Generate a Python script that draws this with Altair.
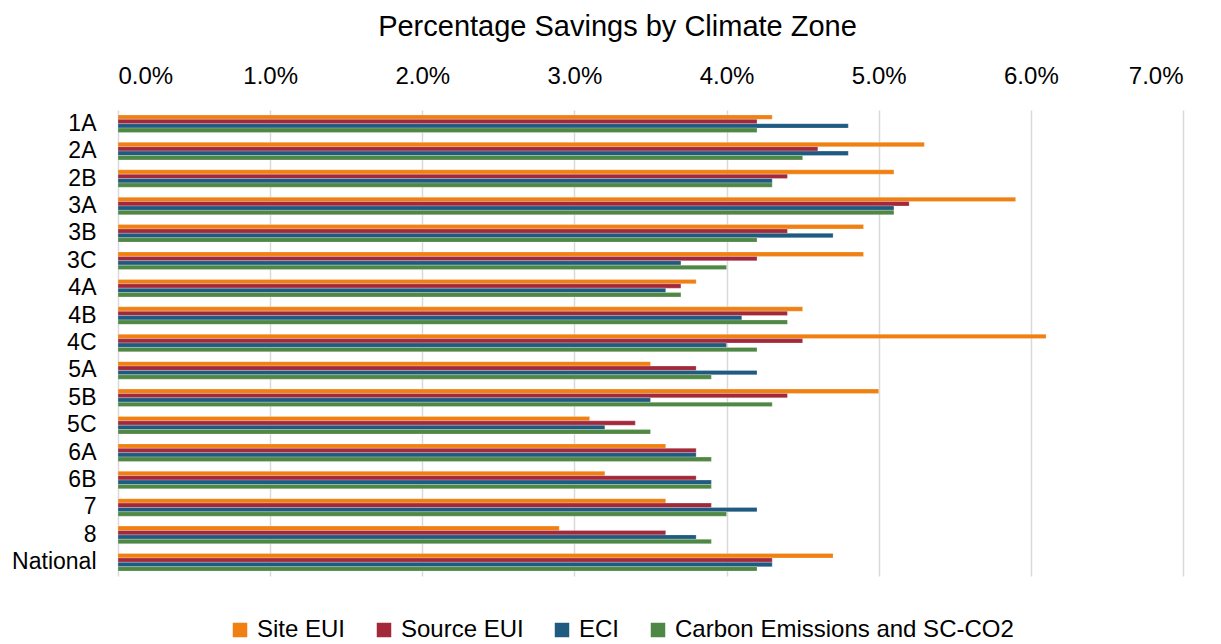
import altair as alt
import pandas as pd

zones = ["1A", "2A", "2B", "3A", "3B", "3C", "4A", "4B", "4C", "5A", "5B",
         "5C", "6A", "6B", "7", "8", "National"]
series = ["Site EUI", "Source EUI", "ECI", "Carbon Emissions and SC-CO2"]
colors = ["#F08012", "#A3293A", "#1F5A80", "#4F8744"]

site_eui = [4.3, 5.3, 5.1, 5.9, 4.9, 4.9, 3.8, 4.5, 6.1, 3.5, 5.0, 3.1, 3.6, 3.2, 3.6, 2.9, 4.7]
source_eui = [4.2, 4.6, 4.4, 5.2, 4.4, 4.2, 3.7, 4.4, 4.5, 3.8, 4.4, 3.4, 3.8, 3.8, 3.9, 3.6, 4.3]
eci = [4.8, 4.8, 4.3, 5.1, 4.7, 3.7, 3.6, 4.1, 4.0, 4.2, 3.5, 3.2, 3.8, 3.9, 4.2, 3.8, 4.3]
carbon = [4.2, 4.5, 4.3, 5.1, 4.2, 4.0, 3.7, 4.4, 4.2, 3.9, 4.3, 3.5, 3.9, 3.9, 4.0, 3.9, 4.2]

x_ticks = [0, 1, 2, 3, 4, 5, 6, 7]

rows = []
for name, vals in zip(series, [site_eui, source_eui, eci, carbon]):
    for z, v in zip(zones, vals):
        rows.append({"zone": z, "series": name, "value": v})
df = pd.DataFrame(rows)

FONT = "Liberation Sans"

chart = alt.Chart(df).mark_bar(stroke="white", strokeWidth=0.4, strokeOpacity=0.6).encode(
    x=alt.X("value:Q",
            scale=alt.Scale(domain=[0, 7], nice=False),
            axis=alt.Axis(orient="top", values=x_ticks, title=None,
                          labelExpr="format(datum.value, '.1f') + '%'",
                          labelFontSize=24, labelFont=FONT, labelColor="#000000",
                          labelPadding=22, ticks=False, domain=False,
                          grid=True, gridColor="#D9D9D9", gridWidth=1.5)),
    y=alt.Y("zone:N", sort=zones,
            scale=alt.Scale(paddingInner=0.36, paddingOuter=0.18),
            axis=alt.Axis(title=None, labelFontSize=23, labelFont=FONT,
                          labelColor="#000000", labelPadding=22,
                          ticks=False, domain=False, grid=False)),
    yOffset=alt.YOffset("series:N", sort=series,
                        scale=alt.Scale(paddingInner=0, paddingOuter=0)),
    color=alt.Color("series:N", sort=series,
                    scale=alt.Scale(domain=series, range=colors),
                    legend=alt.Legend(title=None, orient="none", direction="horizontal",
                                      legendX=110, legendY=508,
                                      labelFontSize=24, labelFont=FONT,
                                      labelColor="#000000", labelLimit=0,
                                      symbolType="square", symbolSize=210,
                                      symbolStrokeWidth=0, labelOffset=5,
                                      columnPadding=26)),
).properties(
    width=1065,
    height=466,
    title=alt.TitleParams("Percentage Savings by Climate Zone", fontSize=29,
                          font=FONT, fontWeight="normal", color="#000000",
                          anchor="middle", dx=-33, offset=22),
    autosize=alt.AutoSizeParams(type="none"),
    padding={"left": 110, "top": 102, "right": 30, "bottom": 66},
).configure_view(stroke=None)

chart.save("out.html", embed_options={"renderer": "svg", "actions": False})
